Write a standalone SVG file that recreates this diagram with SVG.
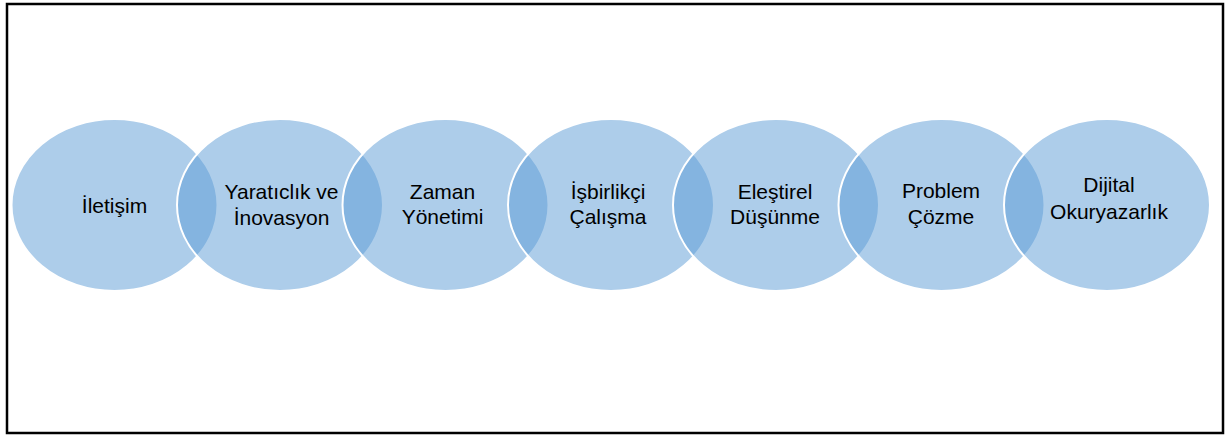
<svg xmlns="http://www.w3.org/2000/svg" width="1229" height="436" viewBox="0 0 1229 436">
<style>
.n ellipse{fill:#5B9BD5;fill-opacity:0.5;stroke:#FFFFFF;stroke-width:2}
.n text{font-family:"Liberation Sans",Arial,sans-serif;font-size:21px;fill:#000000;text-anchor:middle}
</style>
<rect x="0" y="0" width="1229" height="436" fill="#FFFFFF"/>
<rect x="7" y="4" width="1216" height="429" fill="none" stroke="#000000" stroke-width="2.5"/>
<g id="connectors"></g>
<g id="n1" class="n"><ellipse cx="114.5" cy="205" rx="103" ry="86"/><text x="114.5" y="213">İletişim</text></g>
<g id="n2" class="n"><ellipse cx="280" cy="205" rx="103" ry="86"/><text x="281.5" y="199">Yaratıclık ve</text><text x="281.5" y="225">İnovasyon</text></g>
<g id="n3" class="n"><ellipse cx="445.5" cy="205" rx="103" ry="86"/><text x="442.5" y="199">Zaman</text><text x="442.5" y="224">Yönetimi</text></g>
<g id="n4" class="n"><ellipse cx="611" cy="205" rx="103" ry="86"/><text x="608" y="199">İşbirlikçi</text><text x="608" y="224">Çalışma</text></g>
<g id="n5" class="n"><ellipse cx="776" cy="205" rx="103" ry="86"/><text x="775" y="199">Eleştirel</text><text x="775" y="224">Düşünme</text></g>
<g id="n6" class="n"><ellipse cx="941.5" cy="205" rx="103" ry="86"/><text x="941" y="198">Problem</text><text x="941" y="224">Çözme</text></g>
<g id="n7" class="n"><ellipse cx="1107" cy="205" rx="103" ry="86"/><text x="1109" y="192">Dijital</text><text x="1109" y="219">Okuryazarlık</text></g>
</svg>
